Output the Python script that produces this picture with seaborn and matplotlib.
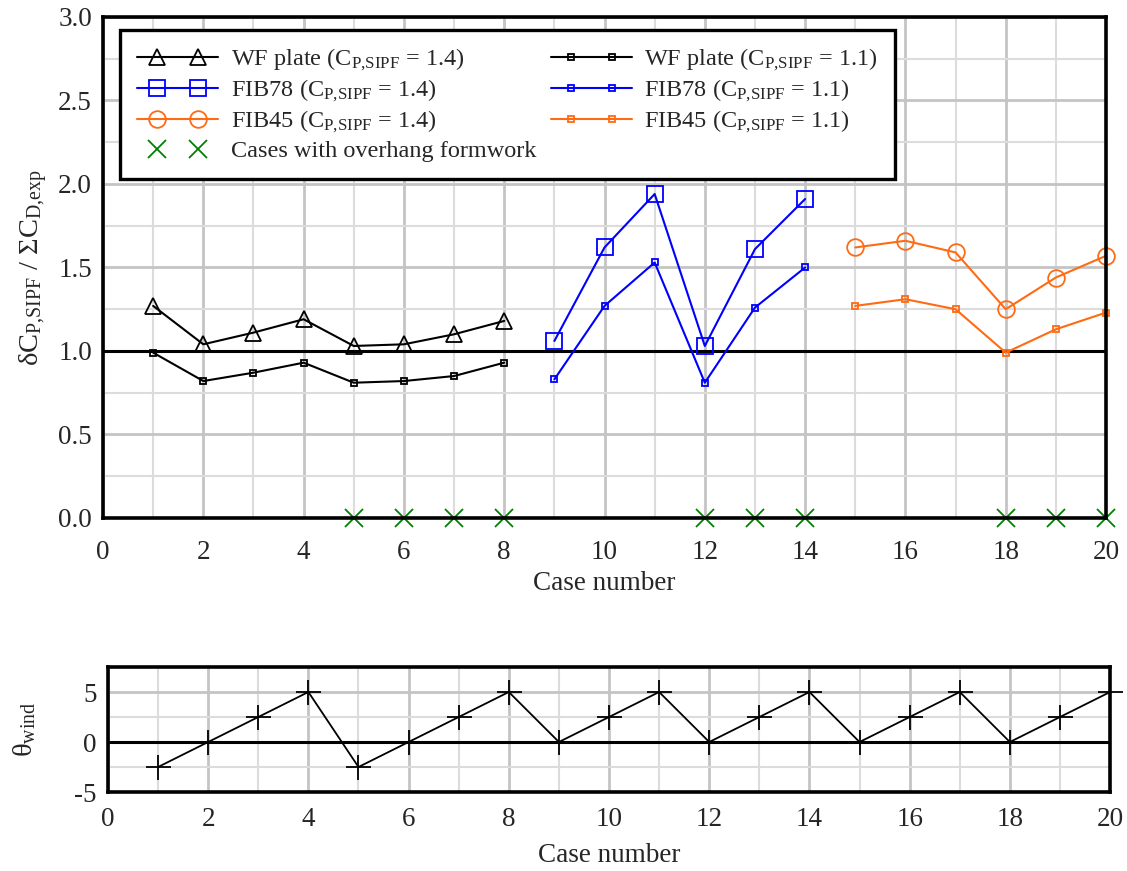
import numpy as np
import pandas as pd
import seaborn as sns
import matplotlib.pyplot as plt
from matplotlib.ticker import MultipleLocator
from matplotlib.legend_handler import HandlerLine2D
from matplotlib.lines import Line2D

# datos
casos_wf = [1, 2, 3, 4, 5, 6, 7, 8]
wf_14 = [1.27, 1.04, 1.11, 1.19, 1.03, 1.04, 1.10, 1.18]
wf_11 = [0.99, 0.82, 0.87, 0.93, 0.81, 0.82, 0.85, 0.93]

casos_fib78 = [9, 10, 11, 12, 13, 14]
fib78_14 = [1.06, 1.62, 1.94, 1.03, 1.61, 1.91]
fib78_11 = [0.83, 1.27, 1.53, 0.81, 1.26, 1.50]

casos_fib45 = [15, 16, 17, 18, 19, 20]
fib45_14 = [1.62, 1.66, 1.59, 1.25, 1.44, 1.57]
fib45_11 = [1.27, 1.31, 1.25, 0.99, 1.13, 1.23]

casos_voladizo = [5, 6, 7, 8, 12, 13, 14, 18, 19, 20]

casos = list(range(1, 21))
theta_wind = [-2.5, 0, 2.5, 5, -2.5, 0, 2.5, 5, 0, 2.5, 5, 0, 2.5, 5, 0, 2.5, 5, 0, 2.5, 5]

sns.set_style("white")
plt.rcParams['font.family'] = ['Liberation Serif', 'DejaVu Serif']
plt.rcParams['mathtext.fontset'] = 'custom'
plt.rcParams['mathtext.rm'] = 'Liberation Serif'
plt.rcParams['mathtext.it'] = 'Liberation Serif:italic'
plt.rcParams['axes.unicode_minus'] = False


# leyenda: linea entera con dos marcadores metidos hacia adentro
class DosMarcadores(HandlerLine2D):
    def create_artists(self, legend, orig_handle, xdescent, ydescent,
                       width, height, fontsize, trans):
        xdata = -xdescent + width * np.array([0, 0.25, 0.5, 0.75, 1.0])
        ydata = np.full_like(xdata, (height - ydescent) / 2)
        legline = Line2D(xdata, ydata)
        self.update_prop(legline, orig_handle, legend)
        legline.set_markevery([1, 3])
        legline.set_transform(trans)
        return [legline]


fig = plt.figure(figsize=(11.27, 8.71), dpi=100)
ax = fig.add_axes([0.0914, 0.4053, 0.8900, 0.5752])
ax2 = fig.add_axes([0.0958, 0.0907, 0.8892, 0.1435])

azul = "#0000ff"
naranja = "#ff6a13"
verde = "#008000"

def sub(txt):
    return r"$\mathregular{_{" + txt + "}}$"

lab14 = " (C" + sub("P{,}SIPF") + " = 1.4)"
lab11 = " (C" + sub("P{,}SIPF") + " = 1.1)"

series = [
    (casos_wf, wf_14, "black", "^", 11, "WF plate" + lab14),
    (casos_fib78, fib78_14, azul, "s", 11, "FIB78" + lab14),
    (casos_fib45, fib45_14, naranja, "o", 12, "FIB45" + lab14),
    (casos_wf, wf_11, "black", "s", 4, "WF plate" + lab11),
    (casos_fib78, fib78_11, azul, "s", 4, "FIB78" + lab11),
    (casos_fib45, fib45_11, naranja, "s", 4, "FIB45" + lab11),
]

handles = []
for xs, ys, col, mk, ms, lab in series:
    df = pd.DataFrame({"caso": xs, "valor": ys})
    sns.lineplot(data=df, x="caso", y="valor", ax=ax, color=col, marker=mk,
                 markersize=ms, markerfacecolor="none", markeredgecolor=col,
                 markeredgewidth=1.3, linewidth=1.5, label=lab, clip_on=False,
                 zorder=4)
    handles.append(ax.lines[-1])

df_x = pd.DataFrame({"caso": casos_voladizo, "valor": [0] * len(casos_voladizo)})
sns.lineplot(data=df_x, x="caso", y="valor", ax=ax, marker="x", markersize=13,
             linestyle="none", color=verde, markeredgecolor=verde,
             markeredgewidth=1.3, clip_on=False, zorder=5,
             label="Cases with overhang formwork")
handles.insert(3, ax.lines[-1])

ax.axhline(1.0, color="black", lw=2.2, zorder=3)

ax.set_xlim(0, 20)
ax.set_ylim(0, 3.0)
ax.xaxis.set_major_locator(MultipleLocator(2))
ax.xaxis.set_minor_locator(MultipleLocator(1))
ax.yaxis.set_major_locator(MultipleLocator(0.5))
ax.yaxis.set_minor_locator(MultipleLocator(0.25))
ax.yaxis.set_major_formatter(plt.FormatStrFormatter("%.1f"))
ax.set_xlabel("Case number", fontsize=19.5, labelpad=4)
ax.set_ylabel(r"δC$\mathregular{_{P{,}SIPF}}$ / ΣC$\mathregular{_{D{,}exp}}$",
              fontsize=20.5, labelpad=6)

leg = ax.legend(handles=handles, labels=[h.get_label() for h in handles],
                ncol=2, loc="upper left", bbox_to_anchor=(0.017, 0.974),
                borderaxespad=0, fontsize=17.5,
                handler_map={Line2D: DosMarcadores()},
                handlelength=3.35, labelspacing=0.2, columnspacing=0.6,
                handletextpad=0.5, fancybox=False, framealpha=1,
                edgecolor="black", borderpad=0.7)
leg.get_frame().set_linewidth(2.4)
leg.set_zorder(10)

# grafico de abajo
df_t = pd.DataFrame({"caso": casos, "theta": theta_wind})
sns.lineplot(data=df_t, x="caso", y="theta", ax=ax2, color="black", marker="+",
             markersize=18, markeredgecolor="black", markeredgewidth=1.3,
             linewidth=1.3, clip_on=False, zorder=4)
ax2.axhline(0, color="black", lw=2.2, zorder=3)
ax2.set_xlim(0, 20)
ax2.set_ylim(-5, 7.5)
ax2.xaxis.set_major_locator(MultipleLocator(2))
ax2.xaxis.set_minor_locator(MultipleLocator(1))
ax2.yaxis.set_major_locator(MultipleLocator(5))
ax2.yaxis.set_minor_locator(MultipleLocator(2.5))
ax2.set_xlabel("Case number", fontsize=19.5, labelpad=8)
ax2.set_ylabel(r"θ$\mathregular{_{wind}}$", fontsize=20.5, labelpad=26)

for a in (ax, ax2):
    a.grid(which="major", color="#c4c4c4", lw=2.0, zorder=0)
    a.grid(which="minor", color="#dcdcdc", lw=1.5, zorder=0)
    a.set_axisbelow(True)
    for sp in a.spines.values():
        sp.set_linewidth(2.6)
        sp.set_color("black")
        sp.set_zorder(6)
    a.tick_params(which="both", length=0, labelsize=19.5)
    a.tick_params(axis="y", pad=8)
ax.tick_params(axis="x", pad=16)
ax2.tick_params(axis="x", pad=11)

plt.savefig("out.png", dpi=100)
plt.close()
